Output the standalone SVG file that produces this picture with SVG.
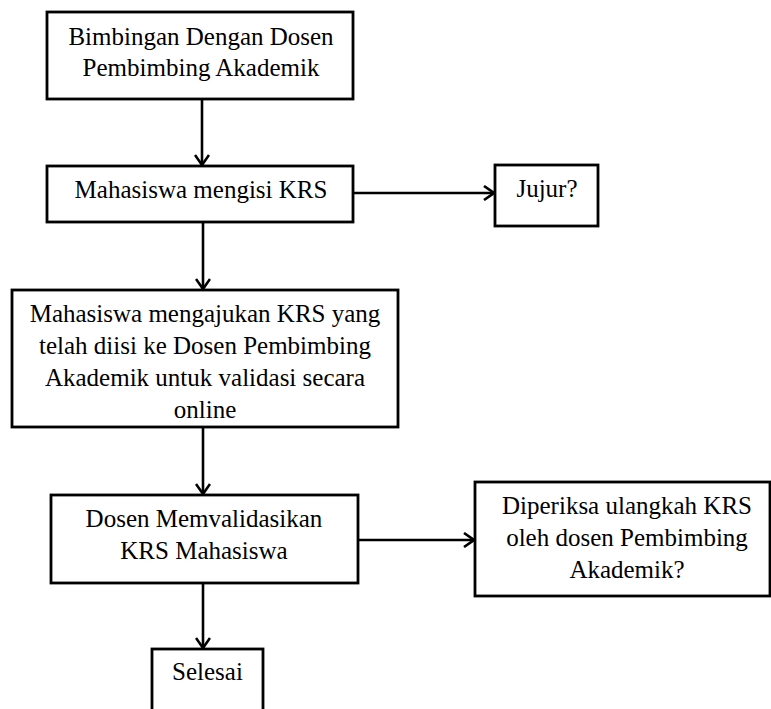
<svg xmlns="http://www.w3.org/2000/svg" width="771" height="709" viewBox="0 0 771 709">
  <defs>
    <marker id="arrow" viewBox="0 0 12 16" refX="11" refY="8" markerWidth="12" markerHeight="16" markerUnits="userSpaceOnUse" orient="auto">
      <path d="M1,1 L11,8 L1,15" fill="none" stroke="#000" stroke-width="2.6"/>
    </marker>
  </defs>
  <style>
    .box { fill: #fff; stroke: #000; stroke-width: 2.8; }
    .lbl { font-family: "Liberation Serif", "Times New Roman", serif; font-size: 25px; fill: #000; text-anchor: middle; }
    .conn { stroke: #000; stroke-width: 2.6; fill: none; marker-end: url(#arrow); }
  </style>
  <rect x="0" y="0" width="771" height="709" fill="#fff"/>

  <g id="connectors">
    <line class="conn" x1="202" y1="99" x2="202" y2="165"/>
    <line class="conn" x1="353" y1="193" x2="494" y2="193"/>
    <line class="conn" x1="203" y1="222" x2="203" y2="289"/>
    <line class="conn" x1="203" y1="427" x2="203" y2="494"/>
    <line class="conn" x1="358" y1="540" x2="474" y2="540"/>
    <line class="conn" x1="203" y1="583" x2="203" y2="648"/>
  </g>

  <g id="bimbingan">
    <rect class="box" x="47" y="12" width="306" height="87"/>
    <text class="lbl" x="201" y="45">Bimbingan Dengan Dosen</text>
    <text class="lbl" x="201" y="76">Pembimbing  Akademik</text>
  </g>

  <g id="mengisi">
    <rect class="box" x="47" y="166" width="306" height="56"/>
    <text class="lbl" x="201" y="198">Mahasiswa mengisi  KRS</text>
  </g>

  <g id="jujur">
    <rect class="box" x="495" y="165" width="103" height="61"/>
    <text class="lbl" x="547" y="197">Jujur?</text>
  </g>

  <g id="mengajukan">
    <rect class="box" x="12" y="290" width="386" height="137"/>
    <text class="lbl" x="205" y="322">Mahasiswa mengajukan KRS yang</text>
    <text class="lbl" x="205" y="354">telah diisi ke Dosen Pembimbing</text>
    <text class="lbl" x="205" y="386">Akademik untuk validasi secara</text>
    <text class="lbl" x="205" y="418">online</text>
  </g>

  <g id="memvalidasikan">
    <rect class="box" x="51" y="495" width="307" height="88"/>
    <text class="lbl" x="204" y="527">Dosen Memvalidasikan</text>
    <text class="lbl" x="204" y="559">KRS Mahasiswa</text>
  </g>

  <g id="diperiksa">
    <rect class="box" x="475" y="482" width="295" height="114"/>
    <text class="lbl" x="627" y="514">Diperiksa ulangkah KRS</text>
    <text class="lbl" x="627" y="546">oleh dosen Pembimbing</text>
    <text class="lbl" x="627" y="578">Akademik?</text>
  </g>

  <g id="selesai">
    <rect class="box" x="152" y="649" width="111" height="80"/>
    <text class="lbl" x="207.5" y="680">Selesai</text>
  </g>
</svg>
